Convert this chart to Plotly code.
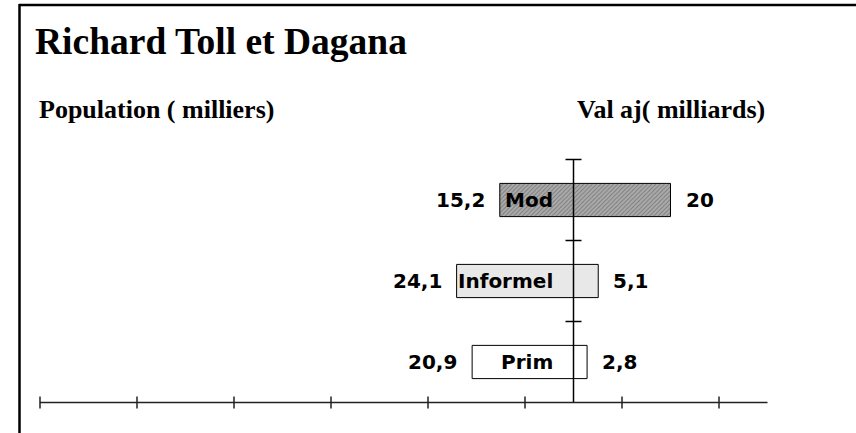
import plotly.graph_objects as go

# ---- data ----
categories = ["Prim", "Informel", "Mod"]          # bottom -> top
population = [20.9, 24.1, 15.2]                    # milliers (left side)
val_aj = [2.8, 5.1, 20.0]                          # milliards (right side)
bar_colors = ["#ffffff", "#e8e8e8", "#ababab"]
bar_patterns = ["", "", "/"]
axis_ticks = [-110, -90, -70, -50, -30, -10, 10, 30]
axis_end = 40

title = "Richard Toll et Dagana"
left_title = "Population ( milliers)"
right_title = "Val aj( milliards)"


def fmt(v):
    if float(v).is_integer():
        return str(int(v))
    return f"{v:.1f}".replace(".", ",")


W, H = 856, 433
PX_PER_UNIT = 4.85
CENTER_PX = 573.5
ROW_PX = 81
BOTTOM_ROW_PX = 362

xmin = -CENTER_PX / PX_PER_UNIT
xmax = (W - CENTER_PX) / PX_PER_UNIT
ymin = -(H - BOTTOM_ROW_PX) / ROW_PX
ymax = BOTTOM_ROW_PX / ROW_PX

fig = go.Figure()
line = dict(color="black", width=1)
pattern = dict(shape=bar_patterns, size=3, solidity=0.3, fgcolor="#989898",
               bgcolor=bar_colors, fillmode="overlay")
fig.add_trace(go.Bar(y=categories, x=[-p for p in population], orientation="h",
                     marker=dict(color=bar_colors, line=line, pattern=pattern), width=0.41,
                     hoverinfo="skip", showlegend=False))
fig.add_trace(go.Bar(y=categories, x=val_aj, orientation="h",
                     marker=dict(color=bar_colors, line=line, pattern=pattern), width=0.41,
                     hoverinfo="skip", showlegend=False))

num_font = dict(family="DejaVu Sans", size=20, color="black")
annotations = []
for i, c in enumerate(categories):
    annotations.append(dict(x=-population[i], y=c, text="<b>%s</b>" % fmt(population[i]),
                            xanchor="right", yanchor="middle", xshift=-13,
                            showarrow=False, font=num_font))
    annotations.append(dict(x=val_aj[i], y=c, text="<b>%s</b>" % fmt(val_aj[i]),
                            xanchor="left", yanchor="middle", xshift=13,
                            showarrow=False, font=num_font))
    annotations.append(dict(x=0, y=c, text="<b>%s</b>" % c,
                            xanchor="right", yanchor="middle", xshift=-19,
                            showarrow=False, font=num_font))

serif = "Liberation Serif, Times New Roman, serif"
annotations.append(dict(xref="paper", yref="paper", x=33 / W, y=1 - 42 / H,
                        text="<b>%s</b>" % title, xanchor="left", yanchor="middle",
                        showarrow=False, font=dict(family=serif, size=37.5, color="black")))
annotations.append(dict(xref="paper", yref="paper", x=156 / W, y=1 - 110 / H,
                        text="<b>%s</b>" % left_title, xanchor="center", yanchor="middle",
                        showarrow=False, font=dict(family=serif, size=26, color="black")))
annotations.append(dict(xref="paper", yref="paper", x=671 / W, y=1 - 110 / H,
                        text="<b>%s</b>" % right_title, xanchor="center", yanchor="middle",
                        showarrow=False, font=dict(family=serif, size=26, color="black")))

shapes = []
n = len(categories)
# central axis with category boundary ticks
shapes.append(dict(type="line", xref="x", yref="y", x0=0, x1=0, y0=-0.5, y1=n - 0.5,
                   line=dict(color="black", width=1.5), layer="above"))
tick_half = 8 / PX_PER_UNIT
for k in range(n):
    yb = k + 0.5
    shapes.append(dict(type="line", xref="x", yref="y", x0=-tick_half, x1=tick_half,
                       y0=yb, y1=yb, line=dict(color="black", width=1.5), layer="above"))
# bottom axis
shapes.append(dict(type="line", xref="x", yref="y", x0=axis_ticks[0], x1=axis_end,
                   y0=-0.5, y1=-0.5, line=dict(color="#222", width=1.5)))
tick_v = 6 / ROW_PX
for t in axis_ticks:
    shapes.append(dict(type="line", xref="x", yref="y", x0=t, x1=t,
                       y0=-0.5 - tick_v, y1=-0.5 + tick_v, line=dict(color="#222", width=1.5)))
# frame (top and left)
shapes.append(dict(type="line", xref="paper", yref="paper", x0=19 / W, x1=1,
                   y0=1 - 5 / H, y1=1 - 5 / H, line=dict(color="black", width=2.5)))
shapes.append(dict(type="line", xref="paper", yref="paper", x0=19.5 / W, x1=19.5 / W,
                   y0=0, y1=1 - 4 / H, line=dict(color="black", width=2.5)))

fig.update_layout(
    width=W, height=H, autosize=False,
    margin=dict(l=0, r=0, t=0, b=0, pad=0),
    paper_bgcolor="white", plot_bgcolor="white",
    barmode="overlay",
    xaxis=dict(range=[xmin, xmax], visible=False, fixedrange=True),
    yaxis=dict(range=[ymin, ymax], visible=False, type="category",
               categoryorder="array", categoryarray=categories, fixedrange=True),
    annotations=annotations, shapes=shapes,
)

fig.write_html("out.html", config={"displayModeBar": False},
               post_script="document.body.style.margin='0';document.body.style.overflow='hidden';")
